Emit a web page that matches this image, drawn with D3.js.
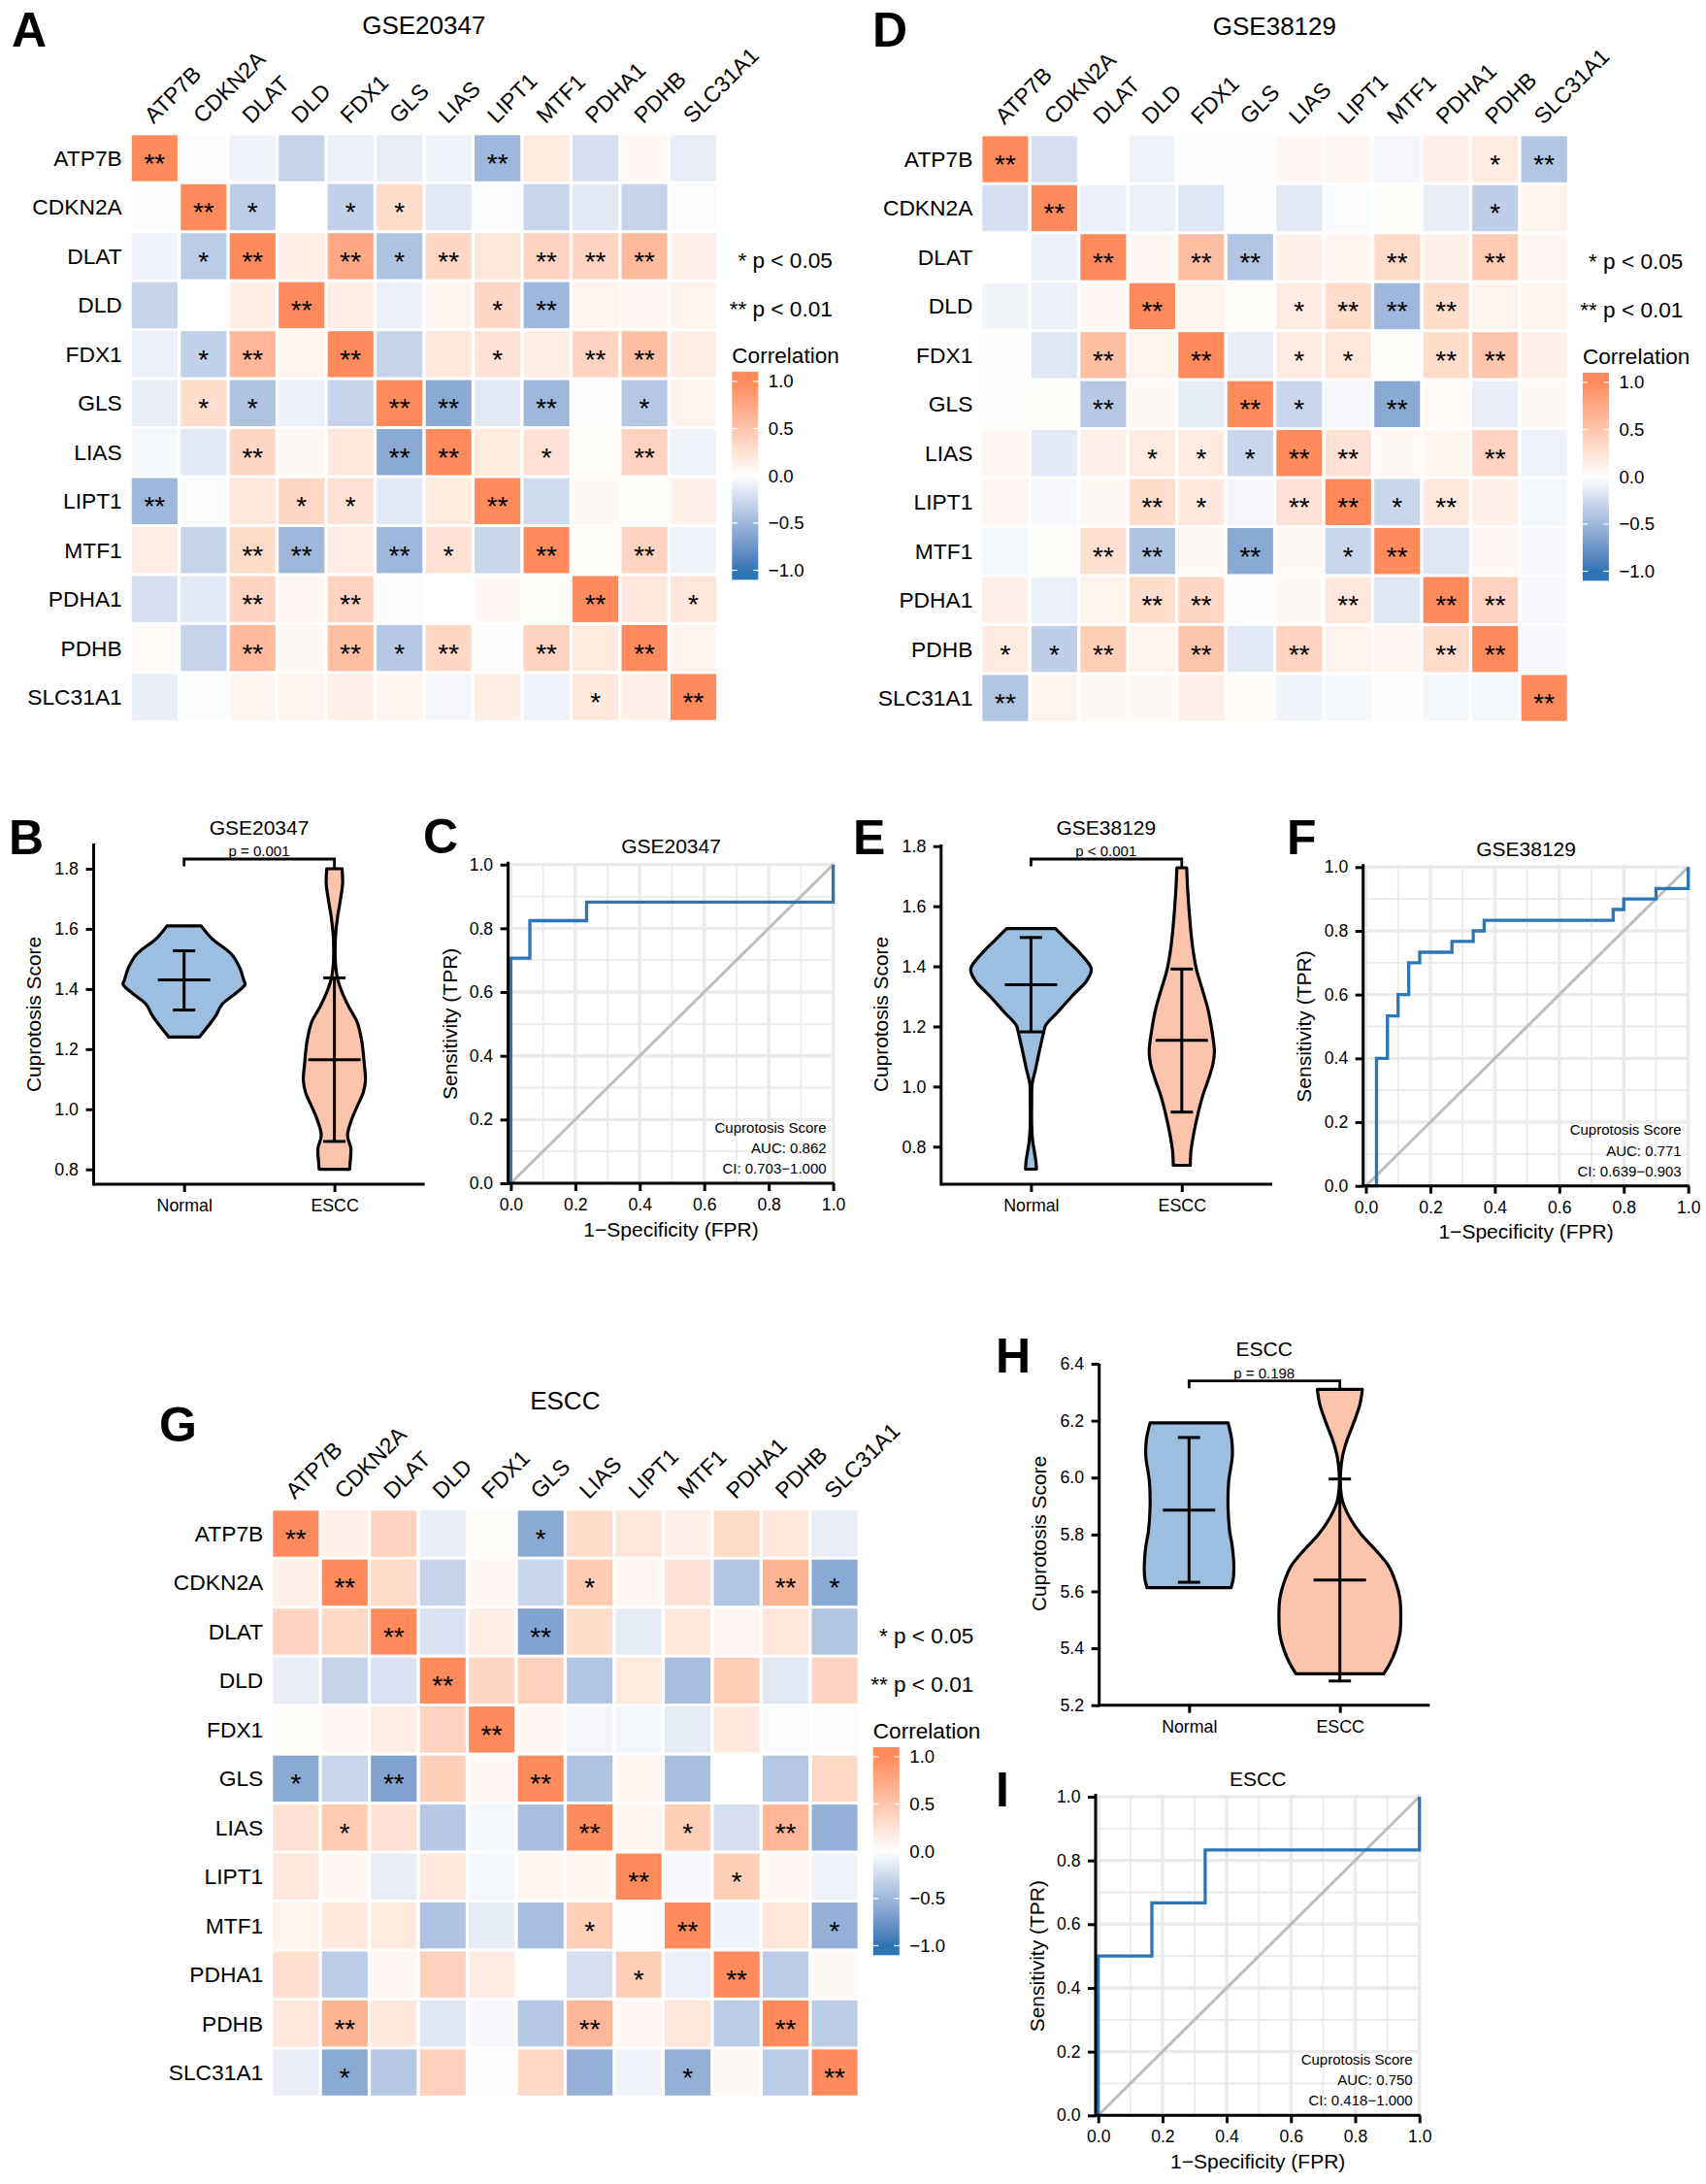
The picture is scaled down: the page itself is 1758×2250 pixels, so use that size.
<!DOCTYPE html>
<html>
<head>
<meta charset="utf-8">
<script src="https://cdn.jsdelivr.net/npm/d3@7/dist/d3.min.js"></script>
<style>
  html, body { margin: 0; padding: 0; background: #fff; }
  text { font-family: "Liberation Sans", Arial, sans-serif; fill: #000; }
</style>
</head>
<body>
<div id="chart-area"></div>
<script>
/* Cuprotosis gene correlation heatmaps, violin plots and ROC curves */

var genes = ["ATP7B","CDKN2A","DLAT","DLD","FDX1","GLS","LIAS","LIPT1","MTF1","PDHA1","PDHB","SLC31A1"];
var groups = ["Normal","ESCC"];

// Correlation matrices
var corrA = [
  [1,-.02,-.08,-.3,-.1,-.12,-.08,-.5,.18,-.22,.06,-.12],
  [-.02,1,-.35,0,-.32,.3,-.15,-.03,-.28,-.15,-.3,-.03],
  [-.08,-.35,1,.15,.75,-.42,.35,.22,.38,.36,.6,.12],
  [-.3,0,.15,1,.15,-.1,.08,.35,-.5,.1,.07,.1],
  [-.1,-.32,.62,.1,1,-.3,.2,.25,.15,.38,.55,.15],
  [-.12,.3,-.42,-.1,-.3,1,-.6,-.15,-.5,-.03,-.38,.1],
  [-.05,-.15,.35,.05,.2,-.6,1,.18,.25,.03,.38,-.08],
  [-.5,-.03,.2,.35,.25,-.15,.18,1,-.25,.05,.03,.12],
  [.15,-.3,.32,-.5,.15,-.5,.25,-.28,1,.03,.38,-.08],
  [-.22,-.14,.36,.07,.38,-.02,0,.06,.03,1,.2,.22],
  [.04,-.3,.6,.05,.55,-.38,.35,.02,.38,.18,1,.1],
  [-.12,-.02,.08,.08,.14,.08,-.06,.15,-.08,.2,.13,1]
];
var sigA = [
  [2,0,0,0,0,0,0,2,0,0,0,0],
  [0,2,1,0,1,1,0,0,0,0,0,0],
  [0,1,2,0,2,1,2,0,2,2,2,0],
  [0,0,0,2,0,0,0,1,2,0,0,0],
  [0,1,2,0,2,0,0,1,0,2,2,0],
  [0,1,1,0,0,2,2,0,2,0,1,0],
  [0,0,2,0,0,2,2,0,1,0,2,0],
  [2,0,0,1,1,0,0,2,0,0,0,0],
  [0,0,2,2,0,2,1,0,2,0,2,0],
  [0,0,2,0,2,0,0,0,0,2,0,1],
  [0,0,2,0,2,1,2,0,2,0,2,0],
  [0,0,0,0,0,0,0,0,0,1,0,2]
];
var corrD = [
  [1,-.22,0,-.08,.01,.01,.06,.07,-.06,.13,.17,-.4],
  [-.22,1,-.1,-.1,-.17,.02,-.15,-.03,.03,-.12,-.33,.1],
  [0,-.1,1,.07,.55,-.4,.13,.08,.32,.13,.45,.07],
  [-.07,-.1,.07,1,.1,.03,.17,.3,-.5,.3,.1,.08],
  [.01,-.17,.55,.1,1,-.12,.17,.22,.03,.3,.5,.12],
  [.01,.03,-.38,.05,-.13,1,-.28,-.06,-.6,.04,-.12,.05],
  [.07,-.14,.13,.17,.17,-.28,1,.25,.05,.08,.38,-.08],
  [.07,-.04,.05,.3,.2,-.06,.25,1,-.28,.2,.12,-.05],
  [-.05,.03,.28,-.42,.05,-.6,.05,-.28,1,-.17,.06,-.04],
  [.13,-.1,.1,.3,.35,.02,.05,.2,-.17,1,.38,-.04],
  [.17,-.33,.42,.1,.5,-.14,.38,.1,.07,.3,1,-.04],
  [-.4,.1,.05,.05,.12,.04,-.08,-.05,-.03,-.05,-.05,1]
];
var sigD = [
  [2,0,0,0,0,0,0,0,0,0,1,2],
  [0,2,0,0,0,0,0,0,0,0,1,0],
  [0,0,2,0,2,2,0,0,2,0,2,0],
  [0,0,0,2,0,0,1,2,2,2,0,0],
  [0,0,2,0,2,0,1,1,0,2,2,0],
  [0,0,2,0,0,2,1,0,2,0,0,0],
  [0,0,0,1,1,1,2,2,0,0,2,0],
  [0,0,0,2,1,0,2,2,1,2,0,0],
  [0,0,2,2,0,2,0,1,2,0,0,0],
  [0,0,0,2,2,0,0,2,0,2,2,0],
  [1,1,2,0,2,0,2,0,0,2,2,0],
  [2,0,0,0,0,0,0,0,0,0,0,2]
];
var corrG = [
  [1,.13,.38,-.12,.03,-.6,.3,.22,.12,.32,.2,-.12],
  [.12,1,.32,-.3,.07,-.28,.45,.07,.25,-.4,.65,-.6],
  [.38,.33,1,-.2,.15,-.65,.3,-.13,.2,.07,.22,-.4],
  [-.12,-.3,-.2,1,.35,.4,-.4,.18,-.45,.42,-.15,.38],
  [.03,.07,.15,.38,1,.06,-.06,-.05,-.13,.2,-.03,-.02],
  [-.6,-.28,-.65,.42,.06,1,-.42,.08,-.45,0,-.38,.33],
  [.25,.45,.25,-.38,-.05,-.45,1,.08,.42,-.22,.62,-.55],
  [.2,.06,-.12,.2,-.05,.08,.08,1,-.04,.42,.07,-.08],
  [.1,.2,.18,-.42,-.13,-.45,.42,-.02,1,-.08,.22,-.55],
  [.28,-.35,.07,.4,.17,0,-.22,.42,-.1,1,-.35,.05],
  [.2,.65,.2,-.17,-.04,-.38,.62,.07,.22,-.35,1,-.35],
  [-.12,-.6,-.38,.4,-.02,.33,-.55,-.08,-.55,.05,-.35,1]
];
var sigG = [
  [2,0,0,0,0,1,0,0,0,0,0,0],
  [0,2,0,0,0,0,1,0,0,0,2,1],
  [0,0,2,0,0,2,0,0,0,0,0,0],
  [0,0,0,2,0,0,0,0,0,0,0,0],
  [0,0,0,0,2,0,0,0,0,0,0,0],
  [1,0,2,0,0,2,0,0,0,0,0,0],
  [0,1,0,0,0,0,2,0,1,0,2,0],
  [0,0,0,0,0,0,0,2,0,1,0,0],
  [0,0,0,0,0,0,1,0,2,0,0,1],
  [0,0,0,0,0,0,0,1,0,2,0,0],
  [0,2,0,0,0,0,2,0,0,0,2,0],
  [0,1,0,0,0,0,0,0,1,0,0,2]
];
var legendTicks = [-1,-.5,0,.5,1];

// Violin outlines: score and relative density (1 = widest violin in use)
var bNormalScore = [1.61,1.569,1.515,1.472,1.429,1.415,1.386,1.348,1.311,1.273,1.24];
var bNormalDens  = [.28,.45,.78,.91,.98,1,.85,.62,.52,.38,.25];
var bEsccScore = [1.8,1.752,1.698,1.644,1.58,1.537,1.494,1.44,1.397,1.343,1.289,1.225,1.15,1.096,1.053,1.01,.967,.913,.87,.827,.8];
var bEsccDens  = [.125,.135,.1,.055,.02,.012,.015,.045,.11,.23,.375,.45,.49,.51,.47,.375,.285,.215,.27,.26,.25];
var bNormalStats = [1.33,1.43,1.527];
var bEsccStats = [.893,1.165,1.437];

var eNormalScore = [1.526,1.483,1.44,1.391,1.354,1.3,1.246,1.203,1.182,1.106,1.053,1.01,.945,.87,.816,.784,.752,.725];
var eNormalDens  = [.4,.61,.82,.99,.92,.67,.43,.24,.21,.125,.07,.02,.012,.012,.03,.055,.08,.09];
var eEsccScore = [1.728,1.644,1.537,1.461,1.391,1.321,1.257,1.192,1.117,1.074,1.02,.967,.913,.848,.784,.738];
var eEsccDens  = [.08,.1,.14,.18,.24,.34,.43,.49,.535,.51,.43,.34,.27,.2,.15,.14];
var eNormalStats = [1.182,1.339,1.496];
var eEsccStats = [.915,1.154,1.391];

var hNormalScore = [6.192,6.133,6.076,5.985,5.894,5.814,5.757,5.689,5.643,5.613];
var hNormalDens  = [.64,.7,.71,.65,.64,.665,.71,.735,.725,.69];
var hEsccScore = [6.31,6.258,6.2,6.133,6.076,6.019,5.96,5.916,5.86,5.8,5.746,5.689,5.632,5.575,5.507,5.45,5.393,5.348,5.31];
var hEsccDens  = [.37,.33,.24,.12,.045,.012,.012,.045,.16,.35,.585,.8,.915,.985,1,.985,.915,.825,.72];
var hNormalStats = [5.632,5.886,6.141];
var hEsccStats = [5.285,5.64,5.995];

var bTicks = [.8,1,1.2,1.4,1.6,1.8];
var hTicks = [5.2,5.4,5.6,5.8,6,6.2,6.4];

// ROC curves
var cFpr = [0,0,.059,.059,.235,.235,1,1];
var cTpr = [0,.706,.706,.824,.824,.882,.882,1];
var fFpr = [0,.033,.033,.067,.067,.1,.1,.133,.133,.167,.167,.267,.267,.333,.333,.367,.367,.767,.767,.8,.8,.9,.9,1,1];
var fTpr = [0,0,.4,.4,.533,.533,.6,.6,.7,.7,.733,.733,.767,.767,.8,.8,.833,.833,.867,.867,.9,.9,.933,.933,1];
var iFpr = [0,0,.167,.167,.333,.333,1,1];
var iTpr = [0,.5,.5,.667,.667,.833,.833,1];
var rocTicks = [0,.2,.4,.6,.8,1];
var rocMinor = [.1,.3,.5,.7,.9];

var blue = "#2E75B6", coral = "#FF8A5C";
var normalFill = "#9DBFDF", esccFill = "#FDC4AC";

var svg = d3.select("#chart-area").append("svg")
    .attr("width", 1758)
    .attr("height", 2250)
    .style("display", "block");

var defs = svg.append("defs");

var color = d3.scaleLinear()
    .domain([-1, 0, 1])
    .range([blue, "#ffffff", coral])
    .interpolate(d3.interpolateLab)
    .clamp(true);

function letter(t, x, y) {
    svg.append("text").attr("x", x).attr("y", y)
        .attr("font-size", "50px").attr("font-weight", "bold").text(t);
}

function heatmap(id, title, corr, sig, left, top) {
    var g = svg.append("g").attr("transform", "translate(" + left + "," + top + ")");
    var x = d3.scaleBand().domain(genes).range([0, 602.3]).paddingInner(0.067);
    var y = d3.scaleBand().domain(genes).range([0, 602.5]).paddingInner(0.06);

    g.append("text").attr("x", 301).attr("y", -104)
        .attr("text-anchor", "middle").attr("font-size", "26px").text(title);

    // column labels
    g.selectAll(".col").data(genes).enter().append("text")
        .attr("class", "col")
        .attr("font-size", "23px")
        .attr("transform", function(d) {
            return "translate(" + (x(d) + x.bandwidth() / 2 - 1) + ",-11) rotate(-45)";
        })
        .text(function(d) { return d; });

    // row labels
    g.selectAll(".row").data(genes).enter().append("text")
        .attr("class", "row")
        .attr("x", -10)
        .attr("y", function(d) { return y(d) + y.bandwidth() / 2 + 8; })
        .attr("text-anchor", "end")
        .attr("font-size", "22.8px")
        .text(function(d) { return d; });

    genes.forEach(function(rowGene, i) {
        genes.forEach(function(colGene, j) {
            g.append("rect")
                .attr("x", x(colGene)).attr("y", y(rowGene))
                .attr("width", x.bandwidth()).attr("height", y.bandwidth())
                .attr("fill", color(corr[i][j]));
            if (sig[i][j] > 0) {
                g.append("text")
                    .attr("x", x(colGene) + x.bandwidth() / 2)
                    .attr("y", y(rowGene) + y.bandwidth() / 2 + 15)
                    .attr("text-anchor", "middle")
                    .attr("font-size", "28px")
                    .text(sig[i][j] == 2 ? "**" : "*");
            }
        });
    });

    // p value key
    g.append("text").attr("x", 722).attr("y", 137).attr("text-anchor", "end")
        .attr("font-size", "22.6px").text("* p < 0.05");
    g.append("text").attr("x", 722).attr("y", 186.3).attr("text-anchor", "end")
        .attr("font-size", "22.6px").text("** p < 0.01");

    // colour legend
    g.append("text").attr("x", 618.5).attr("y", 234.5)
        .attr("font-size", "22.6px").text("Correlation");

    var barX = 618.5, barW = 27;
    var lg = d3.scaleLinear().domain([-1, 1]).range([448.2, 253.6]);
    var barTop = 243.6, barBottom = 458;
    var grad = defs.append("linearGradient")
        .attr("id", "grad" + id)
        .attr("x1", 0).attr("x2", 0).attr("y1", 1).attr("y2", 0);
    d3.range(-1.1, 1.1001, 0.05).forEach(function(v) {
        grad.append("stop")
            .attr("offset", (lg(v) - barBottom) / (barTop - barBottom))
            .attr("stop-color", color(v));
    });
    g.append("rect").attr("x", barX).attr("y", barTop)
        .attr("width", barW).attr("height", barBottom - barTop)
        .attr("fill", "url(#grad" + id + ")");

    var axis = d3.axisRight(lg).tickValues(legendTicks).tickSize(0).tickPadding(0)
        .tickFormat(d3.format(".1f"));
    var ag = g.append("g")
        .attr("transform", "translate(" + (barX + barW + 10.5) + ",0)")
        .call(axis);
    ag.select(".domain").remove();
    ag.selectAll("text").attr("font-size", "18.6px")
        .attr("font-family", '"Liberation Sans", Arial, sans-serif');

    legendTicks.forEach(function(v) {
        [[barX, barX + 5.4], [barX + barW - 5.4, barX + barW]].forEach(function(e) {
            g.append("line").attr("x1", e[0]).attr("x2", e[1])
                .attr("y1", lg(v)).attr("y2", lg(v))
                .attr("stroke", "#fff").attr("stroke-width", 1.2);
        });
    });
}

function styleAxis(sel, size) {
    sel.select(".domain").remove();
    sel.selectAll("line").attr("stroke", "#000").attr("stroke-width", 3);
    sel.selectAll("text").attr("font-size", size)
        .attr("font-family", '"Liberation Sans", Arial, sans-serif').attr("fill", "#000");
}

function violinPanel(o) {
    var y = d3.scaleLinear().domain(o.domain).range(o.yRange);
    var x = d3.scalePoint().domain(groups).range(o.xRange);
    var w = d3.scaleLinear().domain([0, 1]).range([0, 62.8]);

    var yAxis = svg.append("g")
        .attr("transform", "translate(" + o.axisX + ",0)")
        .call(d3.axisLeft(y).tickValues(o.ticks).tickSize(8).tickPadding(7.5).tickFormat(d3.format(".1f")));
    styleAxis(yAxis, "17.8px");

    var xAxis = svg.append("g")
        .attr("transform", "translate(0," + o.axisY + ")")
        .call(d3.axisBottom(x).tickSize(8).tickPadding(7.5));
    styleAxis(xAxis, "17.8px");

    svg.append("line").attr("x1", o.axisX).attr("x2", o.axisX)
        .attr("y1", o.axisTop).attr("y2", o.axisY + 1.5)
        .attr("stroke", "#000").attr("stroke-width", 3);
    svg.append("line").attr("x1", o.axisX).attr("x2", o.axisEnd)
        .attr("y1", o.axisY).attr("y2", o.axisY)
        .attr("stroke", "#000").attr("stroke-width", 3);

    o.violins.forEach(function(v, i) {
        var cx = x(groups[i]);
        var area = d3.area()
            .curve(d3.curveCatmullRom.alpha(0.5))
            .y(function(d) { return y(d[0]); })
            .x0(function(d) { return cx - w(d[1]); })
            .x1(function(d) { return cx + w(d[1]); });
        svg.append("path")
            .attr("d", area(d3.zip(v.score, v.dens)))
            .attr("fill", i == 0 ? normalFill : esccFill)
            .attr("stroke", "#000")
            .attr("stroke-width", 3.2)
            .attr("stroke-linejoin", "round");

        // mean and sd bars
        var s = v.stats;
        var bar = svg.append("g").attr("stroke", "#000").attr("stroke-width", 3);
        bar.append("line").attr("x1", cx).attr("x2", cx).attr("y1", y(s[0])).attr("y2", y(s[2]));
        bar.append("line").attr("x1", cx - 27).attr("x2", cx + 27).attr("y1", y(s[1])).attr("y2", y(s[1]));
        bar.append("line").attr("x1", cx - 11.5).attr("x2", cx + 11.5).attr("y1", y(s[0])).attr("y2", y(s[0]));
        bar.append("line").attr("x1", cx - 11.5).attr("x2", cx + 11.5).attr("y1", y(s[2])).attr("y2", y(s[2]));
    });

    // significance bracket
    var b = o.bracket;
    svg.append("path")
        .attr("d", d3.line()([[x(groups[0]), b + 7.5], [x(groups[0]), b], [x(groups[1]), b], [x(groups[1]), b + 9]]))
        .attr("fill", "none").attr("stroke", "#000").attr("stroke-width", 2.8);

    svg.append("text").attr("x", o.titleX).attr("y", b - 3.2)
        .attr("text-anchor", "middle").attr("font-size", "15px").text(o.p);
    svg.append("text").attr("x", o.titleX).attr("y", o.titleY)
        .attr("text-anchor", "middle").attr("font-size", "21px").text(o.title);
    svg.append("text")
        .attr("transform", "translate(" + o.labelX + "," + o.labelY + ") rotate(-90)")
        .attr("text-anchor", "middle").attr("font-size", "20.9px")
        .text("Cuprotosis Score");
}

function rocPanel(o) {
    var x = d3.scaleLinear().domain([0, 1]).range(o.xRange);
    var y = d3.scaleLinear().domain([0, 1]).range(o.yRange);
    var grid = svg.append("g").attr("stroke", "#ebebeb");

    rocMinor.forEach(function(v) {
        grid.append("line").attr("x1", x(v)).attr("x2", x(v))
            .attr("y1", y(0)).attr("y2", y(1) - 2).attr("stroke-width", 1.8);
        grid.append("line").attr("x1", x(0) - 2).attr("x2", x(1))
            .attr("y1", y(v)).attr("y2", y(v)).attr("stroke-width", 1.8);
    });
    rocTicks.forEach(function(v) {
        grid.append("line").attr("x1", x(v)).attr("x2", x(v))
            .attr("y1", y(0)).attr("y2", y(1) - 2).attr("stroke-width", 3.4);
        grid.append("line").attr("x1", x(0) - 2).attr("x2", x(1))
            .attr("y1", y(v)).attr("y2", y(v)).attr("stroke-width", 3.4);
    });

    var yAxis = svg.append("g")
        .attr("transform", "translate(" + o.axisX + ",0)")
        .call(d3.axisLeft(y).tickValues(rocTicks).tickSize(8).tickPadding(7.5).tickFormat(d3.format(".1f")));
    styleAxis(yAxis, "17.6px");

    var xAxis = svg.append("g")
        .attr("transform", "translate(0," + y(0) + ")")
        .call(d3.axisBottom(x).tickValues(rocTicks).tickSize(8).tickPadding(7.5).tickFormat(d3.format(".1f")));
    styleAxis(xAxis, "17.6px");

    svg.append("line").attr("x1", x(0)).attr("x2", x(1)).attr("y1", y(0)).attr("y2", y(1))
        .attr("stroke", "#bdbdbd").attr("stroke-width", 3);

    var line = d3.line()
        .x(function(d) { return x(d[0]); })
        .y(function(d) { return y(d[1]); });
    svg.append("path").attr("d", line(d3.zip(o.fpr, o.tpr)))
        .attr("fill", "none").attr("stroke", blue).attr("stroke-width", 3.3);

    svg.append("line").attr("x1", o.axisX).attr("x2", o.axisX)
        .attr("y1", y(1) - 3).attr("y2", y(0) + 1.5)
        .attr("stroke", "#000").attr("stroke-width", 3);
    svg.append("line").attr("x1", o.axisX).attr("x2", x(1) + 1)
        .attr("y1", y(0)).attr("y2", y(0))
        .attr("stroke", "#000").attr("stroke-width", 3);

    o.note.forEach(function(t, i) {
        svg.append("text").attr("x", x(1) - 7).attr("y", y(0) - 52.5 + i * 21.3)
            .attr("text-anchor", "end").attr("font-size", "15px").text(t);
    });

    var mid = (o.xRange[0] + o.xRange[1]) / 2;
    svg.append("text").attr("x", mid - 1).attr("y", o.titleY)
        .attr("text-anchor", "middle").attr("font-size", "21px").text(o.title);
    svg.append("text").attr("x", mid - 1).attr("y", y(0) + 54.5)
        .attr("text-anchor", "middle").attr("font-size", "21px").text("1\u2212Specificity (FPR)");
    svg.append("text")
        .attr("transform", "translate(" + o.labelX + "," + ((y(0) + y(1)) / 2) + ") rotate(-90)")
        .attr("text-anchor", "middle").attr("font-size", "21px").text("Sensitivity (TPR)");
}

heatmap("A", "GSE20347", corrA, sigA, 135.8, 139.3);
heatmap("D", "GSE38129", corrD, sigD, 1012.4, 140.3);
heatmap("G", "ESCC", corrG, sigG, 281.3, 1556.3);

violinPanel({
    domain: [.8, 1.8], yRange: [1204.7, 895], xRange: [189.7, 344.6],
    axisX: 96.5, axisY: 1220, axisTop: 869, axisEnd: 437.7, ticks: bTicks,
    bracket: 885, p: "p = 0.001", title: "GSE20347", titleX: 267, titleY: 860,
    labelX: 42, labelY: 1045,
    violins: [
        { score: bNormalScore, dens: bNormalDens, stats: bNormalStats },
        { score: bEsccScore, dens: bEsccDens, stats: bEsccStats }
    ]
});
violinPanel({
    domain: [.8, 1.8], yRange: [1181.3, 871.7], xRange: [1062.4, 1217.8],
    axisX: 969.8, axisY: 1220, axisTop: 870, axisEnd: 1311, ticks: bTicks,
    bracket: 885, p: "p < 0.001", title: "GSE38129", titleX: 1139.8, titleY: 860,
    labelX: 915, labelY: 1045,
    violins: [
        { score: eNormalScore, dens: eNormalDens, stats: eNormalStats },
        { score: eEsccScore, dens: eEsccDens, stats: eEsccStats }
    ]
});
violinPanel({
    domain: [5.2, 6.4], yRange: [1756.7, 1405], xRange: [1225.3, 1380.7],
    axisX: 1132.7, axisY: 1756.7, axisTop: 1405, axisEnd: 1473.3, ticks: hTicks,
    bracket: 1422.7, p: "p = 0.198", title: "ESCC", titleX: 1302.7, titleY: 1396.7,
    labelX: 1078, labelY: 1580,
    violins: [
        { score: hNormalScore, dens: hNormalDens, stats: hNormalStats },
        { score: hEsccScore, dens: hEsccDens, stats: hEsccStats }
    ]
});

rocPanel({
    fpr: cFpr, tpr: cTpr, xRange: [526.4, 858.6], yRange: [1219, 890.7], axisX: 523.6,
    title: "GSE20347", titleY: 879, labelX: 471,
    note: ["Cuprotosis Score", "AUC: 0.862", "CI: 0.703\u22121.000"]
});
rocPanel({
    fpr: fFpr, tpr: fTpr, xRange: [1407.5, 1739.7], yRange: [1221.7, 893.3], axisX: 1404.7,
    title: "GSE38129", titleY: 881.7, labelX: 1351,
    note: ["Cuprotosis Score", "AUC: 0.771", "CI: 0.639\u22120.903"]
});
rocPanel({
    fpr: iFpr, tpr: iTpr, xRange: [1131.7, 1462.7], yRange: [2179.3, 1851], axisX: 1129,
    title: "ESCC", titleY: 1840, labelX: 1076,
    note: ["Cuprotosis Score", "AUC: 0.750", "CI: 0.418\u22121.000"]
});

letter("A", 12, 48);
letter("D", 899, 48);
letter("B", 9, 880);
letter("C", 436, 879);
letter("E", 879, 880);
letter("F", 1326, 880);
letter("G", 164, 1485);
letter("H", 1026, 1414);
letter("I", 1026, 1861);
</script>
</body>
</html>
